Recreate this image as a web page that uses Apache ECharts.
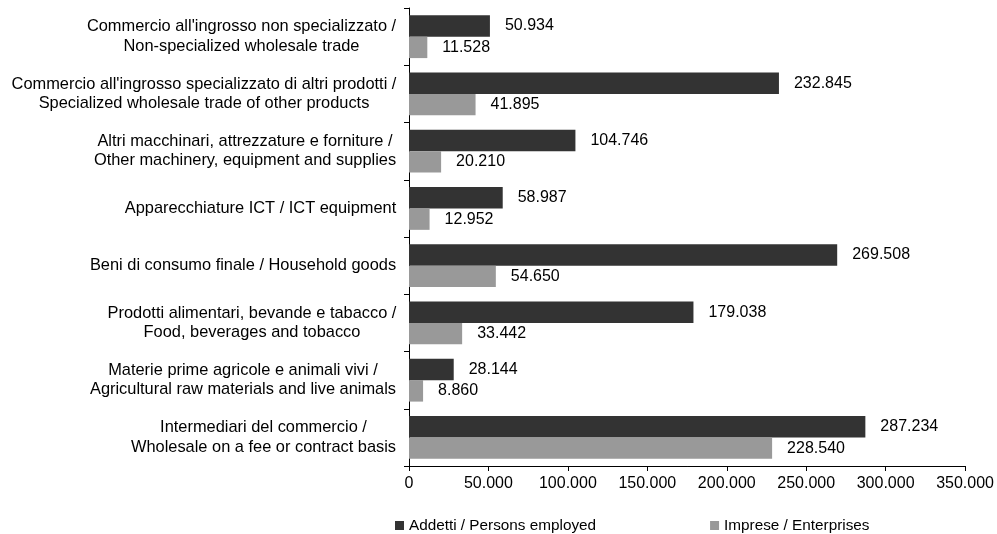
<!DOCTYPE html>
<html><head><meta charset="utf-8">
<script src="https://cdn.jsdelivr.net/npm/echarts@6/dist/echarts.min.js"></script>
<style>html,body{margin:0;padding:0;background:#fff}#c{width:997px;height:534px}</style>
</head><body><div id="c"></div>
<script>
var categories = [
  "Commercio all'ingrosso non specializzato /\nNon-specialized wholesale trade",
  "Commercio all'ingrosso specializzato di altri prodotti /\nSpecialized wholesale trade of other products",
  "Altri macchinari, attrezzature e forniture /\nOther machinery, equipment and supplies",
  "Apparecchiature ICT / ICT equipment",
  "Beni di consumo finale / Household goods",
  "Prodotti alimentari, bevande e tabacco /\nFood, beverages and tobacco",
  "Materie prime agricole e animali vivi /\nAgricultural raw materials and live animals",
  "Intermediari del commercio /\nWholesale on a fee or contract basis"
];
var addetti = [50934, 232845, 104746, 58987, 269508, 179038, 28144, 287234];
var imprese = [11528, 41895, 20210, 12952, 54650, 33442, 8860, 228540];
var seriesNames = ["Addetti / Persons employed", "Imprese / Enterprises"];

function fmt(v){ return String(v).replace(/\B(?=(\d{3})+(?!\d))/g, '.'); }
var font = 'Liberation Sans, Arial, sans-serif';
var FS = 16, CFS = 16.4, LFS = 15.3;
var ctx = document.createElement('canvas').getContext('2d');
ctx.font = CFS + 'px "Liberation Sans"';
var rich = {};
categories.forEach(function(c, i){
  var w = 0;
  c.split('\n').forEach(function(l){ w = Math.max(w, ctx.measureText(l).width); });
  rich['r' + i] = {width: Math.ceil(w) + 1, align: 'center', fontSize: CFS, fontFamily: font, color: '#000', lineHeight: 19.5};
});
var chart = echarts.init(document.getElementById('c'));
var lbl = {show:true, position:'right', distance:15, color:'#000', fontSize:FS, fontFamily:font,
  formatter:function(p){return fmt(p.value);}};
chart.setOption({
  animation:false,
  grid:{left:409, right:31, top:8, bottom:68, containLabel:false},
  legend:{top:518, left:395, padding:0, itemWidth:9, itemHeight:9, itemGap:114, icon:'rect',
    textStyle:{fontSize:LFS, fontFamily:font, color:'#000'}, data:seriesNames},
  xAxis:{type:'value', min:0, max:350000, interval:50000,
    axisLine:{show:true, lineStyle:{color:'#000'}}, axisTick:{show:true, length:5, lineStyle:{color:'#000'}},
    splitLine:{show:false},
    axisLabel:{fontSize:FS, fontFamily:font, color:'#000', margin:10, formatter:fmt}},
  yAxis:{type:'category', inverse:true, data:categories,
    axisLine:{lineStyle:{color:'#000'}}, axisTick:{show:true, length:5, lineStyle:{color:'#000'}},
    axisLabel:{fontSize:CFS, fontFamily:font, color:'#000', margin:12, align:'right',
      rich: rich,
      formatter:function(v, i){
        return v.split('\n').map(function(l){ return '{r' + i + '|' + l + '}'; }).join('\n');
      }}},
  series:[
    {name:seriesNames[0], type:'bar', data:addetti, itemStyle:{color:'#333333'}, barGap:'0%', barCategoryGap:'25%', label:lbl},
    {name:seriesNames[1], type:'bar', data:imprese, itemStyle:{color:'#999999'}, barGap:'0%', barCategoryGap:'25%', label:lbl}
  ]
});
</script></body></html>
